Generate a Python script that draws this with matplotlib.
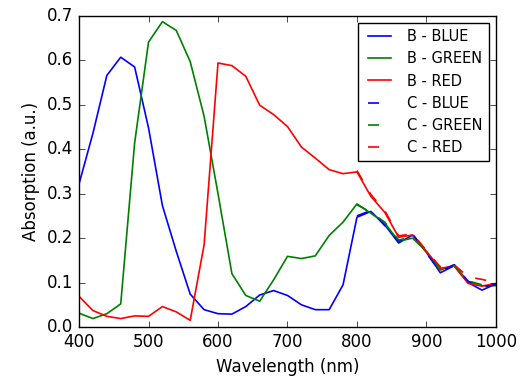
import matplotlib
matplotlib.use("Agg")
import matplotlib.pyplot as plt

# wavelengths (nm)
WL_B = [400, 420, 440, 460, 480, 500, 520, 540, 560, 580, 600, 620, 640, 660, 680, 700,
        720, 740, 760, 780, 800, 820, 840, 860, 880, 900, 920, 940, 960, 980, 1000]
WL_C = [800, 820, 840, 860, 880, 900, 920, 940, 960, 980, 1000]

B_BLUE = [0.322, 0.436, 0.566, 0.607, 0.585, 0.448, 0.273, 0.170, 0.074, 0.039, 0.030,
          0.029, 0.046, 0.072, 0.082, 0.071, 0.050, 0.039, 0.039, 0.095, 0.247, 0.260,
          0.230, 0.189, 0.207, 0.168, 0.122, 0.138, 0.100, 0.083, 0.097]
B_GREEN = [0.031, 0.019, 0.030, 0.052, 0.414, 0.641, 0.687, 0.667, 0.597, 0.474, 0.300,
           0.120, 0.071, 0.058, 0.106, 0.159, 0.154, 0.160, 0.206, 0.236, 0.277, 0.256,
           0.234, 0.193, 0.200, 0.170, 0.128, 0.140, 0.102, 0.093, 0.093]
B_RED = [0.069, 0.037, 0.024, 0.019, 0.025, 0.024, 0.046, 0.034, 0.015, 0.185, 0.594,
         0.588, 0.564, 0.499, 0.478, 0.451, 0.405, 0.380, 0.354, 0.345, 0.349, 0.294,
         0.258, 0.202, 0.207, 0.170, 0.132, 0.137, 0.098, 0.092, 0.098]

C_BLUE = [0.250, 0.262, 0.228, 0.192, 0.210, 0.166, 0.125, 0.140, 0.103, 0.090, 0.095]
C_GREEN = [0.275, 0.258, 0.236, 0.196, 0.202, 0.172, 0.130, 0.138, 0.104, 0.095, 0.095]
C_RED = [0.352, 0.298, 0.262, 0.205, 0.210, 0.172, 0.135, 0.140, 0.113, 0.107, 0.100]

plt.style.use("classic")
plt.rcParams["lines.scale_dashes"] = False

fig = plt.figure(figsize=(5.27, 3.87), dpi=100, facecolor="white")
ax = fig.add_axes([0.150, 0.155, 0.791, 0.804])

ax.plot(WL_B, B_BLUE, color="b", lw=1.2, label="B - BLUE")
ax.plot(WL_B, B_GREEN, color="g", lw=1.2, label="B - GREEN")
ax.plot(WL_B, B_RED, color="r", lw=1.2, label="B - RED")
ax.plot(WL_C, C_BLUE, color="b", lw=1.2, dashes=(8, 10), label="C - BLUE")
ax.plot(WL_C, C_GREEN, color="g", lw=1.2, dashes=(8, 10), label="C - GREEN")
ax.plot(WL_C, C_RED, color="r", lw=1.2, dashes=(8, 10), label="C - RED")

ax.set_xlim(400, 1000)
ax.set_ylim(0, 0.7)
ax.set_xticks(range(400, 1001, 100))
ax.set_yticks([0.0, 0.1, 0.2, 0.3, 0.4, 0.5, 0.6, 0.7])
ax.tick_params(labelsize=12)
ax.set_xlabel("Wavelength (nm)", fontsize=12)
ax.set_ylabel("Absorption (a.u.)", fontsize=12)

ax.legend(loc="upper right", fontsize=10.5, labelspacing=0.5, handlelength=2.2)

fig.savefig("out.png", dpi=100, facecolor="white")
